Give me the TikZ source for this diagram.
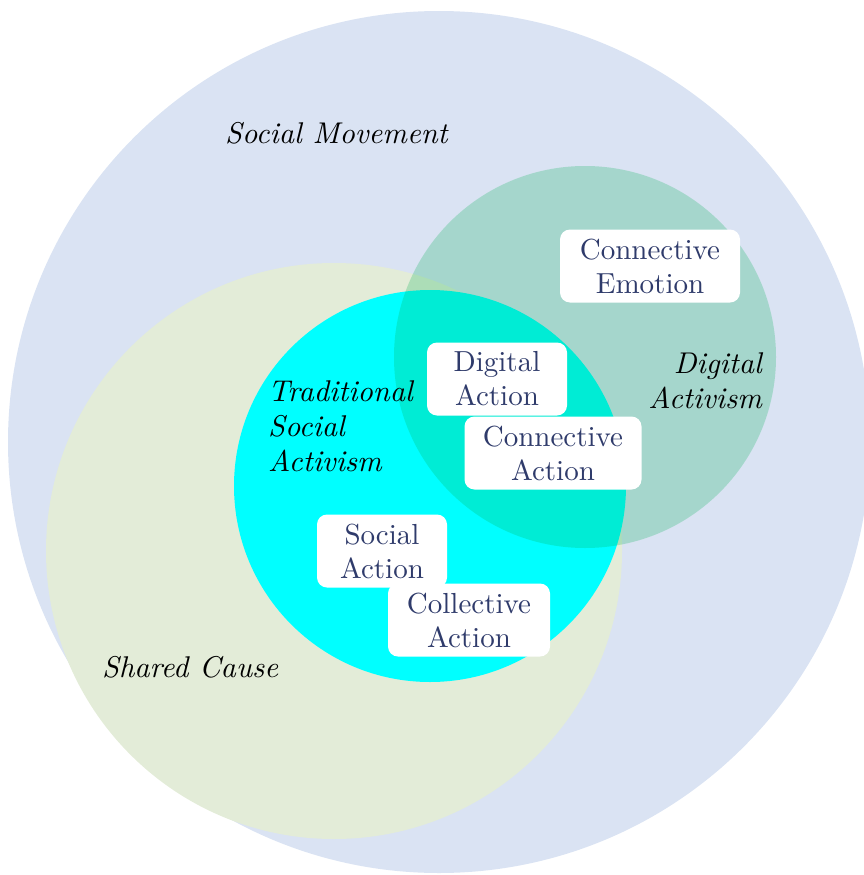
\documentclass[tikz,border=0pt]{standalone}
\usepackage{fontspec}
\setmainfont{lmroman10}[Extension=.otf, UprightFont=*-regular, ItalicFont=*-italic,
  BoldFont=*-bold, BoldItalicFont=*-bolditalic]
\usepackage{xcolor}
\usepackage{tikz}
\definecolor{smblue}{HTML}{DAE3F3}
\definecolor{scgreen}{HTML}{E3ECD8}
\definecolor{tsacyan}{HTML}{00FFFF}
\definecolor{dagreen}{HTML}{00B050}
\definecolor{boxtext}{HTML}{2F3B6B}

\begin{document}
\begin{tikzpicture}[x=1pt, y=-1pt,
  actbox/.style={fill=white, rounded corners=10pt, align=center, inner sep=0pt,
    minimum height=73pt, text=boxtext, font=\fontsize{29}{34}\selectfont},
  setname/.style={inner sep=0pt, text=black, font=\fontsize{30}{35}\selectfont\itshape}]
  \useasboundingbox (0,0) rectangle (864,875);
  % sets
  \coordinate (movement) at (439,442);
  \coordinate (cause) at (334,551);
  \coordinate (traditional) at (430,486);
  \coordinate (digital) at (585,357);
  \fill[smblue] (movement) circle (431);
  \fill[scgreen] (cause) circle (288);
  \fill[tsacyan] (traditional) circle (196);
  \fill[dagreen, fill opacity=0.24] (digital) circle (191);
  % set names
  \node[setname, anchor=base west] (movementname) at (225,143) {Social Movement};
  \node[setname, anchor=base west] (causename) at (102,677) {Shared Cause};
  \node[setname, anchor=north west, align=left] (tradname) at (268,380) {Traditional\\Social\\Activism};
  \node[setname, anchor=north east, align=right] (digname) at (762,352) {Digital\\Activism};
  % actions
  \node[actbox, minimum width=180pt] (emotion) at (650,266) {Connective\\Emotion};
  \node[actbox, minimum width=140pt] (digaction) at (497,379) {Digital\\Action};
  \node[actbox, minimum width=177pt] (conaction) at (553,453) {Connective\\Action};
  \node[actbox, minimum width=130pt] (socaction) at (382,551) {Social\\Action};
  \node[actbox, minimum width=162pt] (colaction) at (469,620) {Collective\\Action};
\end{tikzpicture}
\end{document}
